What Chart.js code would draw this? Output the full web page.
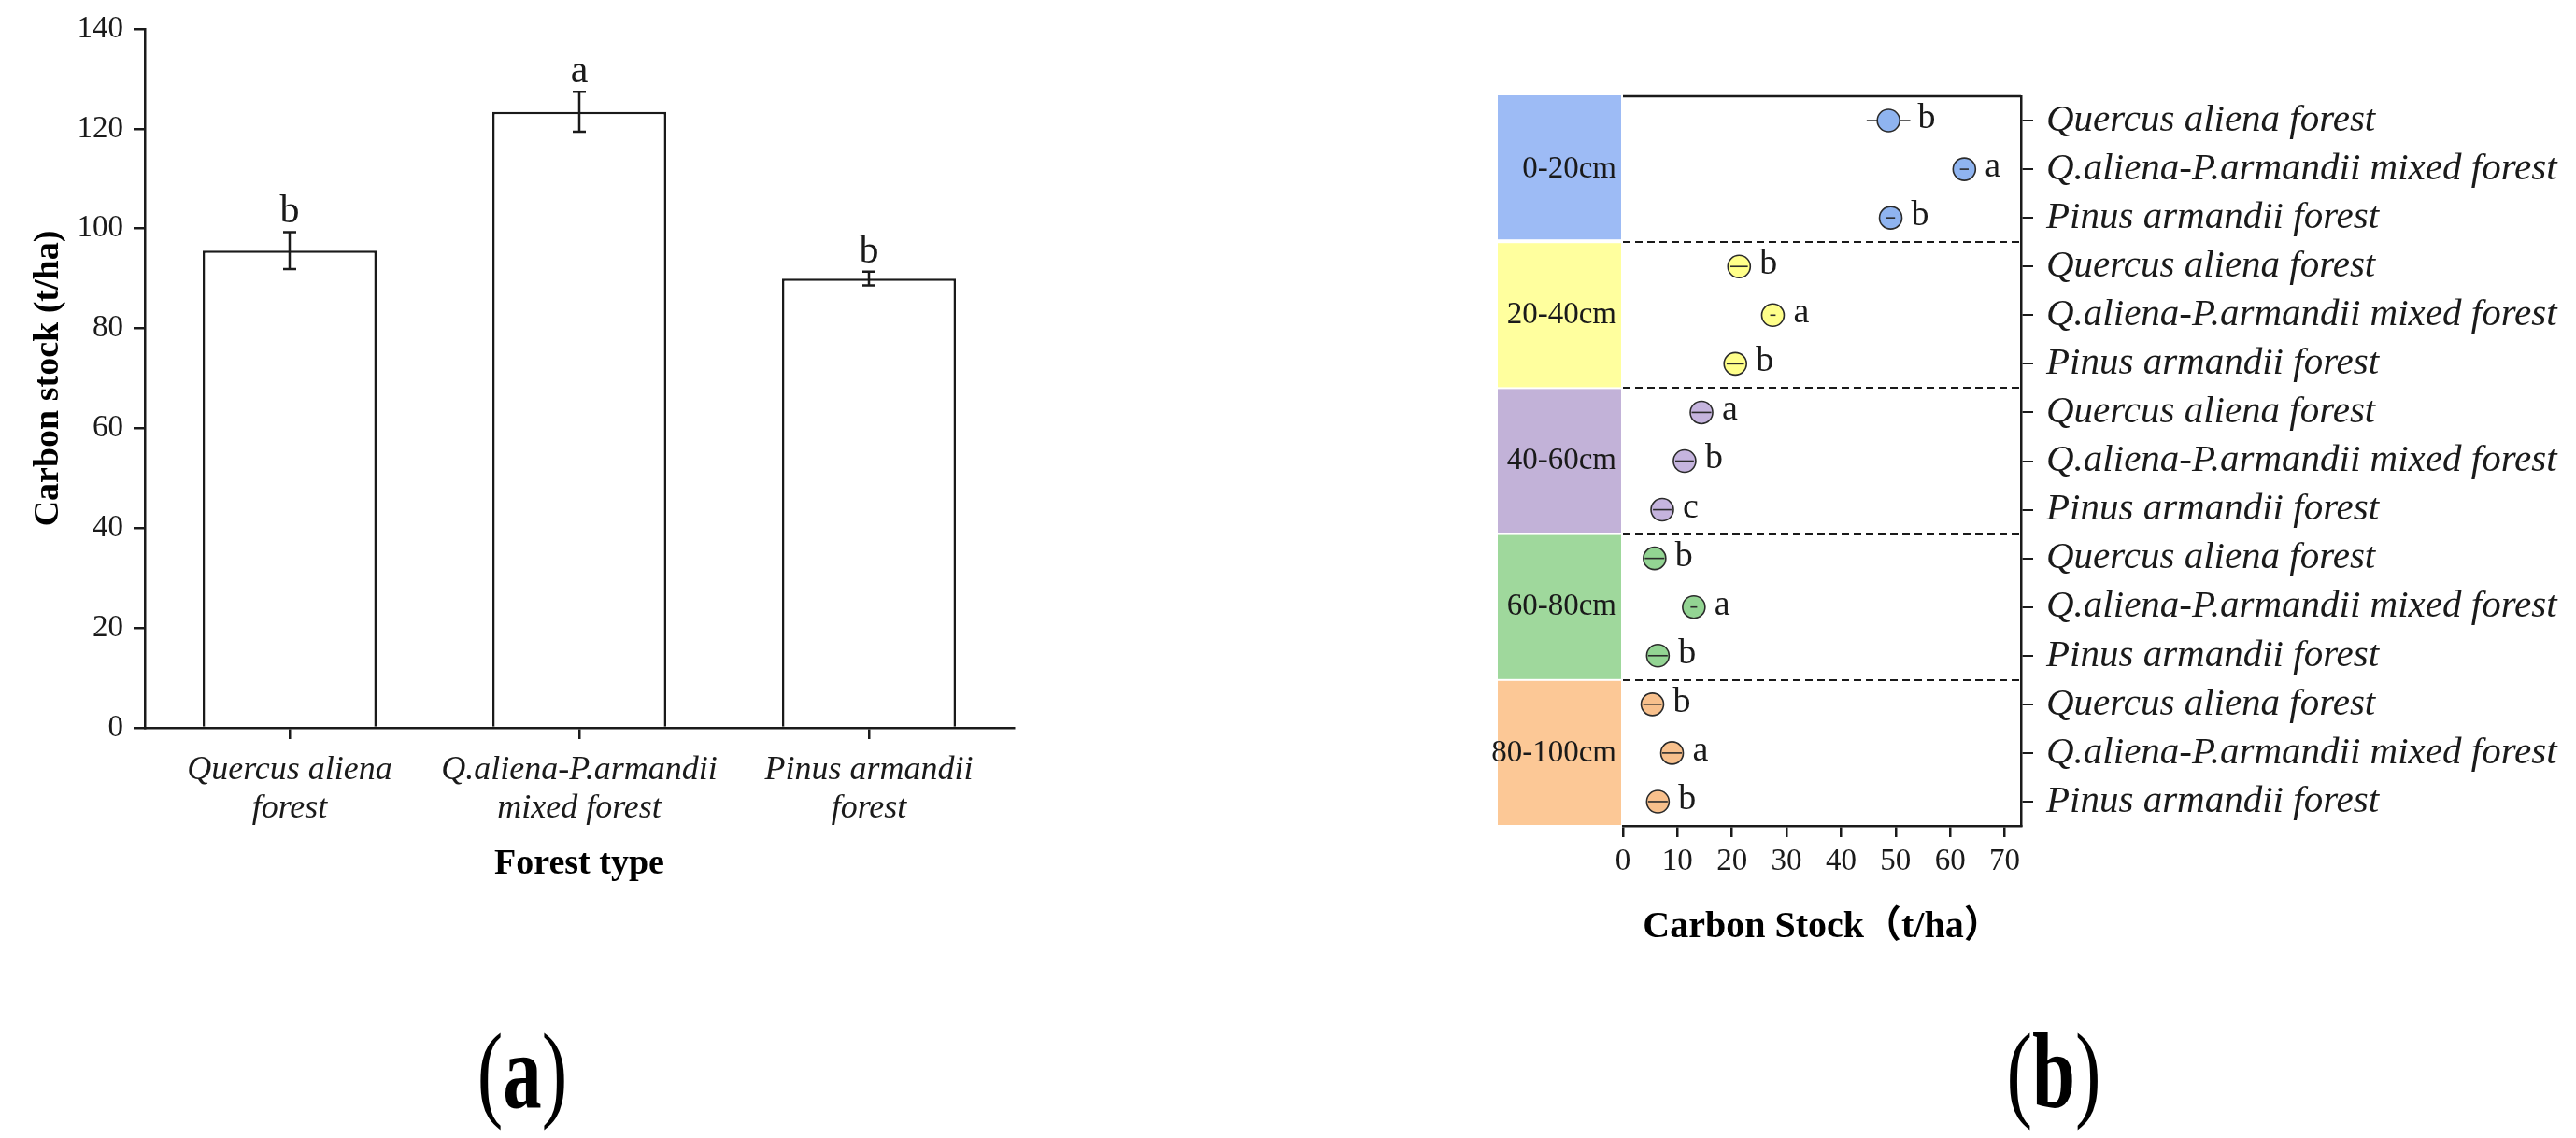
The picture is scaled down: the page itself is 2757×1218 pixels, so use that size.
<!DOCTYPE html>
<html>
<head>
<meta charset="utf-8">
<script src="https://cdn.jsdelivr.net/npm/chart.js@4.4.0/dist/chart.umd.min.js"></script>
<style>
body{margin:0;background:#fff;width:2757px;height:1218px;position:relative;overflow:hidden;font-family:"Liberation Serif",serif}
#cA{position:absolute;left:0;top:0}
#cB{position:absolute;left:1560px;top:40px}
.panel{position:absolute;top:1082px;width:200px;text-align:center;font-size:115px;line-height:130px;color:#000;transform:scaleX(0.72)}
</style>
</head>
<body>
<canvas id="cA" width="1100" height="1000"></canvas>
<canvas id="cB" width="1197" height="1000"></canvas>
<div class="panel" style="left:459px">(<b>a</b>)</div>
<div class="panel" style="left:2098px">(<b>b</b>)</div>
<script>
// (a) total carbon stock by forest type
const forestTypes = [['Quercus aliena','forest'], ['Q.aliena-P.armandii','mixed forest'], ['Pinus armandii','forest']];
const totalStock = [95.6, 123.4, 90.0];
const totalErr = [3.7, 4.0, 1.4];
const totalLetters = ['b', 'a', 'b'];
const yTicksA = [0, 20, 40, 60, 80, 100, 120, 140];

// (b) carbon stock by soil layer
const depthLayers = ['0-20cm', '20-40cm', '40-60cm', '60-80cm', '80-100cm'];
const forestRows = ['Quercus aliena forest', 'Q.aliena-P.armandii mixed forest', 'Pinus armandii forest'];
const layerStock = [48.7, 62.6, 49.1, 21.3, 27.5, 20.6, 14.4, 11.3, 7.2, 5.8, 13.0, 6.4, 5.4, 9.0, 6.4];
const layerErr = [4.0, 0.8, 0.8, 1.6, 0.5, 1.6, 1.8, 1.7, 1.7, 1.8, 0.6, 1.8, 1.7, 1.8, 1.8];
const layerLetters = ['b','a','b', 'b','a','b', 'a','b','c', 'b','a','b', 'b','a','b'];
const xTicksB = [0, 10, 20, 30, 40, 50, 60, 70];

const bandColors = ['#9dbbf5', '#ffff9e', '#c2b2d8', '#9fd89c', '#fcc896'];
const pointColors = ['#8fb4f0', '#ffff8a', '#c5b4de', '#93d493', '#f8c08c'];

const serif = "'Liberation Serif', 'Times New Roman', serif";
const ink = '#1a1a1a';

const rowLabels = [];
depthLayers.forEach(() => forestRows.forEach(r => rowLabels.push(r)));

const barMarks = {
    id: 'barMarks',
    afterDatasetsDraw(chart) {
        const ctx = chart.ctx;
        const x = chart.scales.x, y = chart.scales.y;
        ctx.save();
        ctx.strokeStyle = ink;
        ctx.lineWidth = 2.5;
        ctx.fillStyle = ink;
        ctx.font = '42px ' + serif;
        ctx.textAlign = 'center';
        ctx.textBaseline = 'alphabetic';
        totalStock.forEach((v, i) => {
            const px = x.getPixelForValue(i);
            const top = y.getPixelForValue(v + totalErr[i]);
            const bot = y.getPixelForValue(v - totalErr[i]);
            ctx.beginPath();
            ctx.moveTo(px, top); ctx.lineTo(px, bot);
            ctx.moveTo(px - 7, top); ctx.lineTo(px + 7, top);
            ctx.moveTo(px - 7, bot); ctx.lineTo(px + 7, bot);
            ctx.stroke();
            ctx.fillText(totalLetters[i], px, top - 10);
        });
        ctx.restore();
    }
};

new Chart(document.getElementById('cA'), {
    type: 'bar',
    data: {
        labels: forestTypes,
        datasets: [{
            data: totalStock,
            backgroundColor: '#fff',
            borderColor: ink,
            borderWidth: 2.5,
            barPercentage: 0.6,
            categoryPercentage: 1.0
        }]
    },
    options: {
        responsive: false,
        animation: false,
        devicePixelRatio: 1,
        layout: {padding: {left: 0, top: 31, right: 15, bottom: 0}},
        plugins: {legend: {display: false}, tooltip: {enabled: false}},
        scales: {
            x: {
                grid: {drawOnChartArea: false, offset: false, tickLength: 12, color: ink, lineWidth: 2.5},
                border: {color: ink, width: 2.5},
                ticks: {font: {family: serif, size: 36, style: 'italic', lineHeight: 1.14}, color: ink, padding: 13, maxRotation: 0, autoSkip: false},
                title: {display: true, text: 'Forest type', color: '#000', font: {family: serif, size: 38, weight: 'bold'}, padding: {top: 0, bottom: 52}},
                afterFit: s => { s.height = 221; }
            },
            y: {
                min: 0,
                max: 140,
                afterBuildTicks: s => { s.ticks = yTicksA.map(v => ({value: v})); },
                grid: {drawOnChartArea: false, tickLength: 12, color: ink, lineWidth: 2.5},
                border: {color: ink, width: 2.5},
                ticks: {font: {family: serif, size: 33}, color: ink, padding: 11},
                title: {display: true, text: 'Carbon stock (t/ha)', color: '#000', font: {family: serif, size: 38, weight: 'bold'}, padding: {top: 29, bottom: 0}},
                afterFit: s => { s.width = 155; }
            }
        }
    },
    plugins: [barMarks]
});

const layerMarks = {
    id: 'layerMarks',
    beforeDraw(chart) {
        const ctx = chart.ctx;
        const a = chart.chartArea;
        const y = chart.scales.y;
        const rowH = (a.bottom - a.top) / rowLabels.length;
        ctx.save();
        depthLayers.forEach((name, g) => {
            const t = y.getPixelForValue(g * 3) - rowH / 2;
            const b = y.getPixelForValue(g * 3 + 2) + rowH / 2;
            ctx.fillStyle = bandColors[g];
            ctx.fillRect(a.left - 134, t - (g === 0 ? 2 : 0) + 1, 132, b - t - 2);
            ctx.fillStyle = ink;
            ctx.font = '33px ' + serif;
            ctx.textAlign = 'right';
            ctx.textBaseline = 'middle';
            ctx.fillText(name, a.left - 7, (t + b) / 2);
        });
        ctx.restore();
    },
    beforeDatasetsDraw(chart) {
        const ctx = chart.ctx;
        const a = chart.chartArea;
        const y = chart.scales.y;
        const rowH = (a.bottom - a.top) / rowLabels.length;
        ctx.save();
        ctx.strokeStyle = ink;
        ctx.lineWidth = 2.5;
        ctx.beginPath();
        ctx.moveTo(a.left, a.top); ctx.lineTo(a.right, a.top);
        ctx.stroke();
        ctx.lineWidth = 2.2;
        ctx.setLineDash([8, 5]);
        for (let g = 1; g < depthLayers.length; g++) {
            const py = Math.round(y.getPixelForValue(g * 3) - rowH / 2);
            ctx.beginPath();
            ctx.moveTo(a.left, py); ctx.lineTo(a.right, py);
            ctx.stroke();
        }
        ctx.restore();
    },
    afterDatasetsDraw(chart) {
        const ctx = chart.ctx;
        const x = chart.scales.x, y = chart.scales.y;
        const r = 12;
        ctx.save();
        ctx.strokeStyle = '#2b2b2b';
        ctx.lineWidth = 1.6;
        ctx.fillStyle = ink;
        ctx.font = '38px ' + serif;
        ctx.textAlign = 'left';
        ctx.textBaseline = 'middle';
        layerStock.forEach((v, i) => {
            const px = x.getPixelForValue(v);
            const py = y.getPixelForValue(i);
            const lo = x.getPixelForValue(v - layerErr[i]);
            const hi = x.getPixelForValue(v + layerErr[i]);
            ctx.beginPath();
            if (hi - px > r) {
                ctx.moveTo(lo, py); ctx.lineTo(px - r, py);
                ctx.moveTo(px + r, py); ctx.lineTo(hi, py);
            } else {
                ctx.moveTo(lo, py); ctx.lineTo(hi, py);
            }
            ctx.stroke();
            const tx = Math.max(px + 22, hi + 8);
            ctx.fillText(layerLetters[i], tx, py - 2);
        });
        ctx.restore();
    }
};

new Chart(document.getElementById('cB'), {
    type: 'line',
    data: {
        labels: rowLabels,
        datasets: [{
            data: layerStock,
            showLine: false,
            pointRadius: 12,
            pointHoverRadius: 12,
            pointBackgroundColor: layerStock.map((v, i) => pointColors[Math.floor(i / 3)]),
            pointBorderColor: '#2b2b2b',
            pointBorderWidth: 1.6
        }]
    },
    options: {
        indexAxis: 'y',
        responsive: false,
        animation: false,
        devicePixelRatio: 1,
        layout: {padding: {left: 177, top: 63, right: 0, bottom: 0}},
        plugins: {legend: {display: false}, tooltip: {enabled: false}},
        scales: {
            x: {
                type: 'linear',
                position: 'bottom',
                min: 0,
                max: 73,
                afterBuildTicks: s => { s.ticks = xTicksB.map(v => ({value: v})); },
                grid: {drawOnChartArea: false, tickLength: 12, color: ink, lineWidth: 2.5},
                border: {color: ink, width: 2.5},
                ticks: {font: {family: serif, size: 33}, color: ink, padding: 7},
                title: {display: true, text: 'Carbon Stock（t/ha）', color: '#000', font: {family: "'Liberation Serif', 'Noto Sans CJK SC', serif", size: 40, weight: 'bold'}, padding: {top: 0, bottom: 23}},
                afterFit: s => { s.height = 156; }
            },
            y: {
                type: 'category',
                position: 'right',
                offset: true,
                grid: {drawOnChartArea: false, offset: false, tickLength: 13, color: ink, lineWidth: 2},
                border: {color: ink, width: 2.5},
                ticks: {font: {family: serif, size: 41, style: 'italic'}, color: ink, padding: 14, autoSkip: false},
                afterFit: s => { s.width = 594; }
            }
        }
    },
    plugins: [layerMarks]
});
</script>
</body>
</html>
